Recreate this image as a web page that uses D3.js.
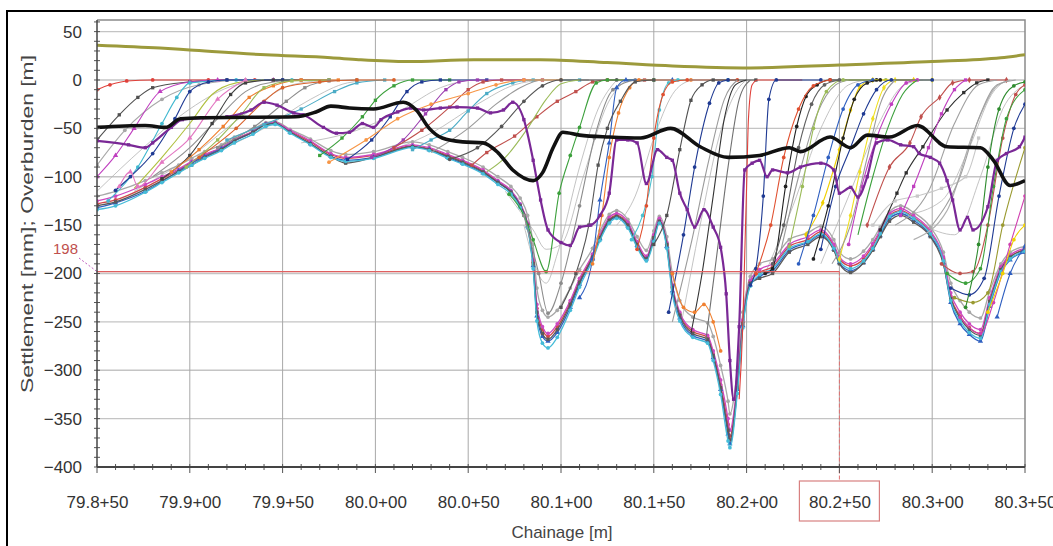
<!DOCTYPE html>
<html>
<head>
<meta charset="utf-8">
<script src="https://cdn.jsdelivr.net/npm/d3@7"></script>
<style>
  body { margin: 0; background: #fff; }
  text { font-family: "Liberation Sans", Arial, sans-serif; }
</style>
</head>
<body>
<script>
'use strict';

// ---- axis ticks / labels ----
const xTickValues = [79850, 79900, 79950, 80000, 80050, 80100, 80150, 80200, 80250, 80300, 80350];
const xTickLabels = ["79.8+50", "79.9+00", "79.9+50", "80.0+00", "80.0+50", "80.1+00", "80.1+50", "80.2+00", "80.2+50", "80.3+00", "80.3+50"];
const yTickValues = [-400, -350, -300, -250, -200, -150, -100, -50, 0, 50];

// reference marker (settlement 198 mm at 80.2+50)
const refValue = -198;
const refChainage = 80250;

// ---- overburden [m] ----
const overburden = [[79850,36],[79884,33],[79900,31],[79941,26],[79976,23],[79991,21],[80017,19],[80053,21],[80089,21],[80125,18],[80160,14.5],[80202,12.5],[80250,15.5],[80300,19],[80337,23],[80350,26]];

// ---- thick black line ----
const blackLine = [[79850,-49],[79876,-47],[79887,-49],[79895,-40],[79906,-39],[79957,-38],[79968,-33],[79976,-27],[79986,-29],[79999,-30],[80015,-23],[80022,-31],[80029,-50],[80036,-60],[80047,-64],[80058,-65],[80066,-75],[80074,-93],[80085,-104],[80090,-96],[80096,-69],[80101,-54],[80110,-57],[80126,-59],[80143,-60],[80159,-50],[80175,-69],[80190,-80],[80207,-78],[80223,-70],[80229,-74],[80245,-59],[80256,-70],[80265,-57],[80277,-59],[80292,-47],[80308,-69],[80326,-70],[80333,-83],[80342,-109],[80350,-104]];

// ---- purple line ----
const purpleLine = [[79850,-63],[79867,-67],[79876,-70],[79880,-65],[79890,-49],[79896,-41],[79920,-38],[79933,-31],[79940,-23],[79947,-26],[79956,-34],[79961,-36],[79972,-49],[79979,-55],[79986,-54],[79993,-45],[79999,-49],[80003,-41],[80012,-33],[80019,-29],[80026,-31],[80035,-29],[80044,-28],[80055,-29],[80062,-34],[80069,-31],[80074,-23],[80080,-41],[80085,-83],[80089,-124],[80093,-155],[80100,-168],[80105,-171],[80110,-152],[80116,-150],[80121,-140],[80126,-117],[80130,-62],[80136,-62],[80141,-65],[80146,-107],[80152,-72],[80157,-80],[80160,-83],[80164,-117],[80168,-134],[80172,-152],[80177,-134],[80182,-152],[80186,-173],[80189,-221],[80191,-290],[80193,-330],[80196,-255],[80199,-93],[80203,-86],[80207,-83],[80211,-100],[80214,-93],[80222,-96],[80229,-90],[80240,-86],[80247,-93],[80250,-117],[80256,-111],[80260,-121],[80265,-100],[80270,-65],[80276,-62],[80283,-67],[80290,-69],[80293,-76],[80299,-80],[80304,-86],[80308,-104],[80311,-124],[80315,-155],[80319,-142],[80322,-155],[80330,-131],[80335,-83],[80340,-76],[80347,-69],[80350,-59]];

// ---- final settlement bundle (shared chainage) ----
const envCh = [79850,79860,79876,79885,79894,79901,79908,79917,79924,79934,
  79941,79946,79954,79965,79976,79984,79999,80020,80029,80039,
  80047,80058,80066,80073,80078,80082,80085,80087,80090,80093,
  80098,80105,80110,80117,80121,80126,80130,80136,80141,80146,
  80150,80153,80157,80160,80164,80171,80179,80182,80186,80190,
  80191,80195,80198,80202,80207,80214,80223,80233,80240,80247,
  80250,80256,80263,80268,80272,80277,80283,80290,80299,80306,
  80310,80315,80320,80326,80331,80337,80342,80350];
const envCyan = [-134,-130,-116,-106,-96,-88,-81,-73,-65,-56,
  -48,-46,-55,-67,-80,-84,-81,-70,-73,-81,
  -87,-97,-108,-118,-132,-153,-195,-249,-272,-277,
  -266,-238,-214,-186,-166,-148,-143,-153,-173,-187,
  -167,-148,-174,-221,-249,-266,-272,-290,-325,-373,
  -380,-324,-256,-213,-201,-195,-174,-167,-159,-174,
  -187,-195,-187,-174,-159,-141,-136,-143,-159,-187,
  -228,-249,-261,-267,-232,-198,-185,-177];
const envDark = [-130,-126,-113,-104,-95,-88,-80,-72,-63,-54,
  -46,-45,-54,-66,-79,-86,-80,-69,-72,-79,
  -85,-95,-106,-116,-130,-150,-190,-240,-262,-268,
  -258,-232,-209,-183,-163,-145,-141,-150,-170,-185,
  -163,-146,-170,-215,-243,-262,-268,-285,-318,-362,
  -372,-318,-252,-210,-205,-200,-178,-170,-162,-176,
  -190,-199,-189,-176,-162,-146,-140,-147,-162,-190,
  -226,-246,-258,-264,-229,-196,-183,-176];
const envMagenta = [-125,-120,-108,-100,-92,-84,-77,-70,-62,-53,
  -45,-44,-52,-63,-76,-80,-77,-67,-70,-77,
  -83,-93,-104,-114,-128,-148,-186,-232,-255,-262,
  -252,-228,-205,-180,-160,-142,-138,-147,-167,-182,
  -160,-143,-168,-212,-240,-258,-264,-280,-310,-350,
  -362,-312,-248,-207,-196,-190,-170,-162,-155,-170,
  -183,-190,-182,-169,-155,-138,-133,-140,-156,-183,
  -220,-240,-252,-258,-225,-193,-181,-174];
const envBlue = [-132,-127,-115,-105,-94,-86,-79,-71,-63,-54,
  -46,-45,-54,-66,-79,-83,-80,-69,-72,-80,
  -86,-96,-106,-116,-130,-151,-192,-244,-265,-270,
  -261,-235,-211,-184,-164,-146,-142,-151,-171,-185,
  -165,-147,-172,-218,-246,-264,-270,-287,-320,-366,
  -376,-320,-254,-212,-203,-197,-176,-168,-160,-175,
  -189,-197,-189,-175,-161,-143,-138,-145,-161,-189,
  -230,-252,-263,-270,-234,-199,-186,-178];
const envGrey = [-120,-115,-104,-96,-88,-81,-74,-67,-59,-51,
  -44,-43,-51,-61,-73,-77,-74,-64,-67,-74,
  -80,-90,-100,-110,-122,-140,-170,-215,-238,-245,
  -238,-215,-196,-174,-156,-139,-135,-144,-162,-176,
  -156,-141,-162,-200,-228,-245,-251,-265,-295,-332,
  -345,-300,-240,-203,-190,-185,-165,-158,-151,-165,
  -178,-185,-177,-165,-152,-136,-130,-137,-152,-178,
  -210,-228,-240,-246,-218,-190,-178,-172];
const envRed = [-128,-124,-111,-102,-93,-85,-78,-70,-62,-53,
  -45,-44,-53,-64,-77,-81,-78,-68,-71,-78,
  -84,-94,-105,-115,-129,-149,-188,-236,-258,-265,
  -255,-230,-207,-182,-162,-144,-140,-149,-169,-184,
  -162,-145,-170,-214,-242,-260,-266,-283,-315,-356,
  -368,-316,-250,-209,-199,-193,-172,-165,-157,-172,
  -185,-192,-185,-171,-157,-140,-135,-142,-158,-185,
  -224,-244,-256,-262,-228,-195,-183,-175];

// ---- readings that rise from the final settlement back to zero ----
const pA1 = [[79850,-10],[79857,-5],[79866,-1],[79880,0],[79910,0],[79935,0],[79960,0]];
const pA2 = [[79850,-62],[79862,-36],[79872,-18],[79880,-8],[79900,-2],[79920,0],[79950,0]];
const pA3 = [[79850,-88],[79865,-52],[79885,-20],[79905,-5],[79930,0],[79960,0]];
const pA4 = [[79850,-100],[79860,-78],[79870,-50],[79884,-12],[79900,-2],[79915,0],[79945,0]];
const pA5 = [[79856,-125],[79872,-90],[79885,-45],[79893,-18],[79900,-3],[79925,0],[79955,0]];
const pA6 = [[79860,-114],[79868,-100],[79880,-76],[79892,-40],[79900,-12],[79910,-2],[79920,0],[79950,0]];
const pA7 = [[79870,-112],[79885,-80],[79900,-45],[79912,-15],[79925,-3],[79940,0]];
const pA8 = [[79880,-100],[79900,-70],[79915,-40],[79930,-12],[79945,-2],[79960,0]];
const pA9 = [[79885,-102],[79900,-78],[79912,-45],[79922,-15],[79930,-3],[79945,0],[79975,0]];
const pA10 = [[79890,-95],[79905,-72],[79918,-48],[79932,-18],[79945,-6],[79960,0],[79980,0]];
const pA11 = [[79898,-90],[79915,-62],[79928,-35],[79940,-8],[79955,-1],[79975,0]];
const pA12 = [[79915,-70],[79935,-48],[79952,-22],[79962,-8],[79975,-1],[79990,0]];
const pA13 = [[79920,-62],[79940,-46],[79960,-30],[79978,-12],[79990,-3],[80005,0]];
const pA14 = [[79862,-110],[79868,-95],[79872,-110],[79885,-85],[79900,-60],[79915,-20],[79930,0]];
const pA15 = [[79905,-80],[79925,-50],[79940,-22],[79950,-8],[79970,-2],[79990,0],[80010,0]];
const pB1 = [[79970,-78],[79982,-60],[79993,-38],[80000,-21],[80010,-6],[80020,0],[80040,0]];
const pB2 = [[79985,-82],[79998,-62],[80008,-38],[80017,-12],[80025,-2],[80035,0],[80060,0]];
const pB3 = [[79998,-80],[80015,-62],[80027,-35],[80038,-10],[80045,-2],[80055,0],[80080,0]];
const pB4 = [[80010,-70],[80025,-52],[80040,-28],[80050,-10],[80058,-2],[80068,0],[80090,0]];
const pB5 = [[80020,-72],[80030,-62],[80040,-52],[80050,-32],[80060,-14],[80074,-3],[80085,0],[80110,0]];
const pB6 = [[80030,-75],[80050,-50],[80065,-25],[80078,-8],[80090,0],[80115,0]];
const pB7 = [[80052,-88],[80060,-75],[80075,-58],[80087,-38],[80098,-22],[80108,-12],[80117,-2],[80125,0],[80145,0]];
const pB8 = [[79975,-85],[79995,-62],[80012,-40],[80030,-25],[80050,-14],[80065,-5],[80080,0],[80100,0]];
const pB9 = [[80040,-82],[80055,-70],[80068,-48],[80080,-22],[80090,-6],[80100,0],[80130,0]];
const pB10 = [[80060,-95],[80070,-80],[80082,-50],[80092,-20],[80100,-4],[80110,0]];
const pC1 = [[80072,-118],[80080,-140],[80085,-165],[80092,-198],[80099,-117],[80105,-78],[80110,-49],[80119,-3],[80125,0],[80150,0]];
const pC2 = [[80080,-140],[80088,-200],[80093,-241],[80100,-210],[80110,-130],[80118,-60],[80128,-10],[80140,0]];
const pC3 = [[80110,-225],[80117,-185],[80121,-124],[80126,-65],[80130,-8],[80135,0],[80160,0]];
const pC4 = [[80117,-190],[80122,-140],[80126,-80],[80131,-34],[80137,-8],[80142,0],[80170,0]];
const pC5 = [[80100,-235],[80108,-200],[80115,-150],[80120,-88],[80125,-50],[80132,-22],[80140,-2],[80150,0]];
const pC6 = [[80138,-165],[80144,-140],[80149,-100],[80153,-31],[80158,-3],[80163,0],[80190,0]];
const pC7 = [[80141,-175],[80146,-130],[80150,-60],[80155,-15],[80160,-2],[80168,0],[80195,0]];
const pC8 = [[80150,-170],[80157,-140],[80164,-72],[80170,-21],[80176,-5],[80182,0],[80205,0]];
const pC9 = [[80158,-240],[80166,-160],[80172,-90],[80180,-24],[80185,-3],[80190,0]];
const pC10 = [[80160,-250],[80170,-170],[80180,-80],[80188,-20],[80195,0]];
const pC11 = [[80196,-330],[80198,-250],[80199,-180],[80200,-110],[80201,-40],[80203,-5],[80206,0],[80230,0]];
const pC12 = [[80170,-262],[80176,-200],[80182,-120],[80188,-40],[80194,-5],[80200,0]];
const pC13 = [[80178,-270],[80184,-180],[80190,-90],[80196,-20],[80202,0]];
const pC14 = [[80160,-200],[80166,-235],[80172,-240],[80177,-232],[80182,-250],[80186,-280]];
const pD1 = [[80202,-212],[80205,-195],[80209,-120],[80212,-20],[80216,0],[80240,0]];
const pD2 = [[80210,-200],[80214,-195],[80221,-110],[80227,-48],[80232,-17],[80238,-5],[80245,0],[80270,0]];
const pD3 = [[80218,-180],[80228,-100],[80238,-35],[80248,-5],[80255,0]];
const pD4 = [[80223,-172],[80230,-110],[80236,-50],[80243,-12],[80252,0],[80275,0]];
const pD5 = [[80232,-160],[80241,-127],[80250,-72],[80256,-31],[80261,-7],[80268,0],[80290,0]];
const pD6 = [[80250,-185],[80256,-140],[80261,-95],[80268,-40],[80274,-8],[80280,0],[80300,0]];
const pD7 = [[80240,-175],[80248,-110],[80256,-70],[80263,-35],[80270,-10],[80278,0],[80300,0]];
const pD8 = [[80255,-170],[80262,-110],[80270,-60],[80278,-25],[80286,-3],[80292,0]];
const pD9 = [[80260,-160],[80268,-100],[80276,-50],[80284,-15],[80292,0]];
const pD10 = [[80265,-150],[80277,-90],[80288,-65],[80294,-38],[80304,-18],[80311,-3],[80320,0],[80340,0]];
const pD11 = [[80272,-155],[80281,-117],[80286,-96],[80295,-69],[80308,-31],[80317,-13],[80324,-3],[80330,0]];
const pD12 = [[80280,-150],[80298,-115],[80312,-45],[80325,-5],[80335,0]];
const pD13 = [[80290,-165],[80308,-135],[80322,-55],[80334,-8],[80342,0]];
const pD14 = [[80268,-150],[80280,-125],[80292,-120],[80305,-112],[80318,-100],[80325,-60]];
const pD15 = [[80205,-200],[80213,-150],[80220,-80],[80228,-30],[80236,-6],[80245,0]];
const pD16 = [[80228,-190],[80236,-140],[80244,-80],[80252,-30],[80260,-5],[80268,0]];
const pD17 = [[80214,-190],[80220,-150],[80228,-70],[80235,-25],[80242,-5],[80250,0]];
const pD18 = [[80236,-185],[80244,-130],[80252,-60],[80258,-20],[80265,-3],[80272,0]];
const pD19 = [[80246,-190],[80256,-150],[80265,-80],[80272,-25],[80280,0]];
const pD20 = [[80283,-140],[80290,-110],[80298,-70],[80305,-35],[80312,-10],[80318,0]];
const pE1 = [[80305,-190],[80315,-200],[80322,-198],[80330,-150],[80338,-60],[80345,-15],[80350,-5]];
const pE2 = [[80308,-200],[80318,-210],[80326,-195],[80333,-110],[80340,-40],[80350,-10]];
const pE3 = [[80310,-215],[80320,-222],[80328,-205],[80336,-120],[80344,-50],[80350,-25]];
const pE4 = [[80312,-225],[80322,-230],[80330,-220],[80338,-150],[80350,-70]];
const pE5 = [[80315,-245],[80326,-262],[80333,-230],[80342,-170],[80350,-120]];
const pE6 = [[80330,-240],[80338,-200],[80344,-165],[80350,-150]];
const pE7 = [[80318,-235],[80325,-170],[80330,-90],[80336,-30],[80344,-6],[80350,-2]];
const pE8 = [[80300,-150],[80315,-100],[80325,-40],[80335,-5],[80345,0]];
const pE9 = [[80335,-245],[80342,-200],[80350,-172]];

// thin grey readings
const g1 = [[79850,-115],[79875,-70],[79900,-30],[79925,-5],[79945,0]];
const g2 = [[79870,-115],[79900,-80],[79930,-35],[79955,-5],[79975,0]];
const g3 = [[79910,-78],[79940,-50],[79965,-20],[79985,-3],[80000,0]];
const g4 = [[79960,-65],[79990,-52],[80015,-30],[80035,-8],[80050,0]];
const g5 = [[80000,-78],[80030,-55],[80055,-25],[80075,-5],[80090,0]];
const g6 = [[80070,-115],[80085,-155],[80092,-175],[80100,-170],[80112,-100],[80125,-25],[80135,0]];
const g7 = [[80130,-150],[80140,-120],[80150,-60],[80160,-15],[80170,0]];
const g8 = [[80165,-250],[80175,-150],[80185,-60],[80195,-10],[80200,0]];
const g9 = [[80210,-200],[80225,-130],[80240,-50],[80255,-5],[80265,0]];
const g10 = [[80240,-190],[80255,-120],[80270,-50],[80285,-5],[80295,0]];
const g11 = [[80285,-140],[80305,-125],[80320,-70],[80332,-15],[80340,0]];
const g12 = [[80295,-150],[80312,-160],[80326,-100],[80338,-30],[80350,-5]];
const g13 = [[80080,-150],[80092,-210],[80098,-180],[80110,-90],[80120,-30],[80130,0]];

// ---- layout ----
const width = 1053, height = 546;
const plot = { left: 97, right: 1025, top: 20, bottom: 467 };

const svg = d3.select('body').append('svg')
  .attr('width', width)
  .attr('height', height);

const x = d3.scaleLinear().domain([79850, 80350]).range([plot.left, plot.right]);
const y = d3.scaleLinear().domain([-400, 62]).range([plot.bottom, plot.top]);

// outer frame
svg.append('path')
  .attr('d', `M7,${height} L7,11 L${width},11`)
  .attr('fill', 'none').attr('stroke', '#000').attr('stroke-width', 2);

// grid
svg.append('g').selectAll('line.h')
  .data(yTickValues.filter(v => v > -400))
  .enter().append('line')
  .attr('x1', plot.left).attr('x2', plot.right)
  .attr('y1', d => y(d)).attr('y2', d => y(d))
  .attr('stroke', '#c4c4c4').attr('stroke-width', 1.3);

svg.append('g').selectAll('line.v')
  .data(xTickValues.slice(1, -1))
  .enter().append('line')
  .attr('x1', d => x(d)).attr('x2', d => x(d))
  .attr('y1', plot.top).attr('y2', plot.bottom)
  .attr('stroke', '#a8a8a8').attr('stroke-width', 1);

// plot frame top / right
svg.append('path')
  .attr('d', `M${plot.left},${plot.top} L${plot.right},${plot.top} L${plot.right},${plot.bottom}`)
  .attr('fill', 'none').attr('stroke', '#8a8a8a').attr('stroke-width', 1.5);

// clip for series
svg.append('clipPath').attr('id', 'clip')
  .append('rect')
  .attr('x', plot.left).attr('y', plot.top)
  .attr('width', plot.right - plot.left).attr('height', plot.bottom - plot.top);

const series = svg.append('g').attr('clip-path', 'url(#clip)');

const line = d3.line()
  .x(d => x(d[0]))
  .y(d => y(d[1]))
  .curve(d3.curveMonotoneX);

const symbols = {
  circle: d3.symbol().type(d3.symbolCircle).size(11),
  square: d3.symbol().type(d3.symbolSquare).size(11),
  triangle: d3.symbol().type(d3.symbolTriangle).size(12),
  diamond: d3.symbol().type(d3.symbolDiamond).size(12)
};

function drawSeries(data, color, marker, lw) {
  series.append('path')
    .datum(data)
    .attr('fill', 'none')
    .attr('stroke', color)
    .attr('stroke-width', lw)
    .attr('stroke-linejoin', 'round')
    .attr('d', line);
  if (marker) {
    series.append('g').selectAll('path')
      .data(data)
      .enter().append('path')
      .attr('transform', d => `translate(${x(d[0])},${y(d[1])})`)
      .attr('d', symbols[marker]())
      .attr('fill', color);
  }
}

function zipEnv(values) {
  return envCh.map((c, i) => [c, values[i]]).filter(d => d[1] !== undefined);
}

// thin grey readings
[g1, g2, g3, g4, g5, g6, g7, g8, g9, g10, g11, g12, g13]
  .forEach(g => drawSeries(g, '#b4b4b4', null, 0.8));

// final settlement bundle
const bundle = [
  [envGrey, '#a8a8a8', 'circle'],
  [envRed, '#d04848', 'circle'],
  [envMagenta, '#cc48c0', 'circle'],
  [envBlue, '#3060c0', 'triangle'],
  [envDark, '#5a5a5a', 'square'],
  [envCyan, '#45bcd8', 'circle']
];
bundle.forEach(b => drawSeries(zipEnv(b[0]), b[1], b[2], 1.3));

// rising readings
const partials = [
  [pA1, '#e0403a', 'circle'], [pA2, '#505050', 'square'], [pA3, '#a8a8a8', 'circle'],
  [pA4, '#c040c0', 'triangle'], [pA5, '#40b8d0', 'circle'], [pA6, '#1f3a93', 'circle'],
  [pA7, '#b0c040', null], [pA8, '#909090', null], [pA9, '#404040', 'square'],
  [pA10, '#f08030', 'square'], [pA11, '#9bbb59', 'square'], [pA12, '#8c8c8c', 'square'],
  [pA13, '#4bacc6', 'square'], [pA14, '#e377c2', 'triangle'], [pA15, '#d9622b', 'circle'],
  [pB1, '#3ca03c', 'square'], [pB2, '#1f3a93', 'square'], [pB3, '#9c3fb0', 'square'],
  [pB4, '#c0504d', 'square'], [pB5, '#4bacc6', 'square'], [pB6, '#9a9a9a', null],
  [pB7, '#c0504d', 'square'], [pB8, '#f79646', 'circle'], [pB9, '#555555', 'circle'],
  [pB10, '#9bbb59', null],
  [pC1, '#3ca03c', 'circle'], [pC2, '#8c8c8c', 'circle'], [pC3, '#2f5fc0', 'triangle'],
  [pC4, '#f08030', 'circle'], [pC5, '#555555', 'square'], [pC6, '#4bc0d0', 'circle'],
  [pC7, '#e05030', 'circle'], [pC8, '#505050', 'square'], [pC9, '#1f3a93', 'circle'],
  [pC10, '#9a9a9a', null], [pC11, '#e0403a', null], [pC12, '#333333', null],
  [pC13, '#707070', null], [pC14, '#f08030', 'circle'],
  [pD1, '#1f3a93', 'circle'], [pD2, '#202020', 'circle'], [pD3, '#9a9a9a', null],
  [pD4, '#9bbb59', 'circle'], [pD5, '#f0d000', 'diamond'], [pD6, '#f0e020', 'diamond'],
  [pD7, '#1f3a93', 'circle'], [pD8, '#c040c0', 'circle'], [pD9, '#3ca03c', null],
  [pD10, '#c0504d', 'diamond'], [pD11, '#303030', 'square'], [pD12, '#a0a0a0', null],
  [pD13, '#b0b0b0', null], [pD14, '#c8c8c8', 'square'], [pD15, '#e05030', 'circle'],
  [pD16, '#2f5fc0', 'circle'], [pD17, '#606060', 'circle'], [pD18, '#222222', 'circle'],
  [pD19, '#9a9a9a', null], [pD20, '#c040c0', 'square'],
  [pE1, '#c0504d', 'circle'], [pE2, '#3ca03c', 'circle'], [pE3, '#1f3a93', 'circle'],
  [pE4, '#9a9a30', 'circle'], [pE5, '#d040b0', 'circle'], [pE6, '#f0d000', 'circle'],
  [pE7, '#2e8b2e', 'circle'], [pE8, '#a0a0a0', null], [pE9, '#2f5fc0', 'triangle']
];
partials.forEach(p => drawSeries(p[0], p[1], p[2], 1.1));

// purple, black, overburden
drawSeries(purpleLine, '#7a2896', 'square', 2.2);
drawSeries(blackLine, '#111', null, 3.6);
drawSeries(overburden, '#9c9a3c', null, 3);

// ---- reference 198 mm line ----
svg.append('line')
  .attr('x1', plot.left).attr('x2', x(refChainage))
  .attr('y1', y(refValue)).attr('y2', y(refValue))
  .attr('stroke', '#e06060').attr('stroke-width', 1.2);
svg.append('line')
  .attr('x1', x(refChainage)).attr('x2', x(refChainage))
  .attr('y1', y(refValue)).attr('y2', 481)
  .attr('stroke', '#e07070').attr('stroke-width', 1)
  .attr('stroke-dasharray', '4,2');
svg.append('rect')
  .attr('x', x(refChainage) - 40).attr('y', 481)
  .attr('width', 80).attr('height', 40)
  .attr('fill', 'none').attr('stroke', '#d88080').attr('stroke-width', 1.2);
svg.append('line')
  .attr('x1', 79).attr('y1', 258)
  .attr('x2', plot.left).attr('y2', y(refValue))
  .attr('stroke', '#c060c0').attr('stroke-width', 1)
  .attr('stroke-dasharray', '2,2');
svg.append('text')
  .attr('x', 53).attr('y', 254)
  .style('font-size', '15px')
  .attr('fill', '#c0504d')
  .text(String(-refValue));

// ---- axes ----
const yAxis = d3.axisLeft(y).tickValues(yTickValues).tickSize(0).tickPadding(15);
const gy = svg.append('g').attr('transform', `translate(${plot.left},0)`).call(yAxis);
gy.select('.domain').remove();
gy.selectAll('text').style('font-size', '17px').attr('fill', '#333');

const yMinor = d3.range(-400, 61, 10);
svg.append('g').selectAll('line')
  .data(yMinor).enter().append('line')
  .attr('x1', plot.left - 3).attr('x2', plot.left + 3)
  .attr('y1', d => y(d)).attr('y2', d => y(d))
  .attr('stroke', '#555').attr('stroke-width', 1);

const xAxis = d3.axisBottom(x).tickValues(xTickValues)
  .tickFormat((d, i) => xTickLabels[i]).tickSize(0).tickPadding(29);
const gx = svg.append('g').attr('transform', `translate(0,${plot.bottom})`).call(xAxis);
gx.select('.domain').remove();
gx.selectAll('text').style('font-size', '17px').attr('fill', '#333');

const xMinor = d3.range(79850, 80351, 10);
svg.append('g').selectAll('line')
  .data(xMinor).enter().append('line')
  .attr('x1', d => x(d)).attr('x2', d => x(d))
  .attr('y1', plot.bottom - 3)
  .attr('y2', d => plot.bottom + (xTickValues.includes(d) ? 6 : 3))
  .attr('stroke', '#555').attr('stroke-width', 1);

// axis lines
svg.append('line')
  .attr('x1', plot.left).attr('x2', plot.left)
  .attr('y1', plot.top).attr('y2', plot.bottom)
  .attr('stroke', '#444').attr('stroke-width', 1.5);
svg.append('line')
  .attr('x1', plot.left).attr('x2', plot.right)
  .attr('y1', plot.bottom).attr('y2', plot.bottom)
  .attr('stroke', '#444').attr('stroke-width', 2);

// axis titles
svg.append('text')
  .attr('transform', 'translate(33,224)rotate(-90)')
  .attr('text-anchor', 'middle')
  .attr('textLength', 338)
  .attr('lengthAdjust', 'spacingAndGlyphs')
  .style('font-size', '17px')
  .attr('fill', '#444')
  .text('Settlement [mm]; Overburden [m]');

svg.append('text')
  .attr('x', 562).attr('y', 538)
  .attr('text-anchor', 'middle')
  .style('font-size', '17px')
  .attr('fill', '#444')
  .text('Chainage [m]');
</script>
</body>
</html>
